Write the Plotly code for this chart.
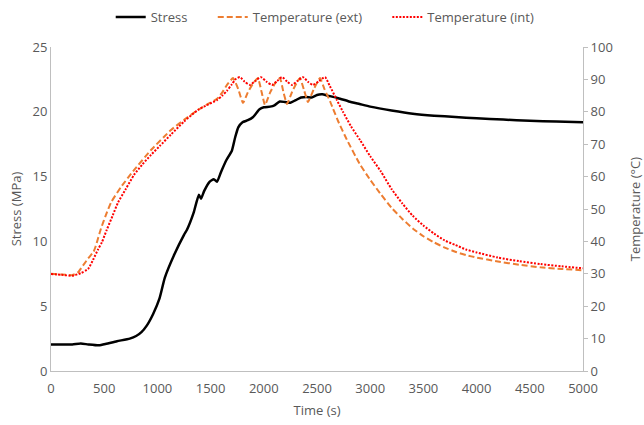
import plotly.graph_objects as go

# ---- data ----
stress_t = [0, 100, 200, 280, 350, 450, 520, 620, 740, 800, 850, 900, 960, 1020, 1070,
            1160, 1250, 1278, 1340, 1390, 1410, 1440, 1490, 1530, 1560, 1600, 1650, 1700,
            1730, 1760, 1800, 1850, 1900, 1960, 2000, 2060, 2100, 2150, 2200, 2250, 2300,
            2350, 2400, 2450, 2500, 2550, 2600, 2700, 2800, 2900, 3000, 3200, 3400, 3600,
            3800, 4000, 4250, 4500, 4750, 5000]
stress = [2.05, 2.05, 2.05, 2.12, 2.05, 1.98, 2.1, 2.3, 2.5, 2.7, 3.0, 3.5, 4.4, 5.6, 7.2,
          9.0, 10.5, 10.9, 12.2, 13.6, 13.3, 13.9, 14.6, 14.8, 14.6, 15.4, 16.3, 17.0,
          18.0, 18.8, 19.2, 19.35, 19.6, 20.2, 20.35, 20.4, 20.5, 20.8, 20.75, 20.7, 20.9,
          21.1, 21.15, 21.1, 21.3, 21.35, 21.25, 21.05, 20.8, 20.6, 20.4, 20.1, 19.85, 19.7,
          19.6, 19.5, 19.4, 19.3, 19.25, 19.2]

ext_t = [0, 100, 200, 250, 300, 350, 400, 420, 470, 520, 564, 658, 780, 940, 1128, 1250,
         1382, 1480, 1560, 1610, 1654, 1711, 1760, 1804, 1850, 1900, 1945, 1980, 2011,
         2060, 2110, 2152, 2185, 2218, 2270, 2310, 2340, 2380, 2415, 2470, 2528, 2570,
         2622, 2650, 2700, 2782, 2900, 3000, 3092, 3200, 3300, 3400, 3500, 3600, 3700,
         3800, 3900, 4000, 4200, 4400, 4600, 4800, 5000]
temp_ext = [30.0, 29.8, 29.6, 30.3, 32.5, 34.8, 36.8, 38.5, 44.0, 48.5, 52.0, 56.8, 62.0,
            68.2, 74.4, 77.5, 80.6, 82.5, 84.0, 86.0, 88.3, 90.4, 87.0, 82.7, 86.0, 88.8,
            90.4, 86.0, 82.1, 86.0, 89.0, 90.4, 86.0, 82.4, 86.5, 89.0, 90.4, 86.5, 83.0,
            87.0, 90.4, 87.0, 83.3, 81.0, 77.0, 71.3, 64.0, 59.0, 54.9, 50.4, 47.0, 44.0,
            41.6, 39.7, 38.1, 36.8, 35.8, 35.0, 33.8, 32.8, 32.0, 31.5, 31.1]

int_t = [0, 100, 200, 280, 348, 395, 442, 479, 523, 580, 630, 700, 780, 860, 940, 1024,
         1128, 1250, 1382, 1480, 1560, 1610, 1654, 1700, 1740, 1776, 1820, 1870, 1920,
         1973, 2025, 2077, 2125, 2171, 2220, 2265, 2315, 2368, 2415, 2462, 2520, 2575,
         2620, 2687, 2744, 2820, 2904, 3000, 3100, 3200, 3300, 3400, 3500, 3600, 3700,
         3800, 3900, 4000, 4200, 4400, 4600, 4800, 5000]
temp_int = [29.9, 29.7, 29.4, 30.2, 31.5, 34.3, 37.5, 39.8, 43.5, 48.0, 52.0, 56.0, 60.5,
            63.8, 66.7, 69.5, 73.0, 77.0, 80.6, 82.3, 83.6, 85.0, 86.5, 88.5, 90.2, 90.7,
            89.3, 88.3, 89.5, 90.7, 89.3, 88.3, 89.5, 90.7, 89.3, 88.3, 89.5, 90.7, 89.3,
            88.3, 89.5, 90.7, 88.0, 83.6, 80.0, 75.5, 71.3, 66.3, 61.6, 56.2, 51.8, 47.9,
            44.9, 42.4, 40.3, 38.9, 37.5, 36.6, 35.0, 33.9, 33.0, 32.3, 31.7]

x_ticks = [0, 500, 1000, 1500, 2000, 2500, 3000, 3500, 4000, 4500, 5000]

TXT = "#595959"
AX = "#BFBFBF"
FONT = "Open Sans"
PAD = "\u00a0" * 6  # spacing between legend entries

fig = go.Figure()
fig.add_trace(go.Scatter(x=stress_t, y=stress, mode="lines", name="Stress" + PAD,
                         line=dict(color="black", width=2.5, shape="spline", smoothing=0.5),
                         yaxis="y"))
fig.add_trace(go.Scatter(x=ext_t, y=temp_ext, mode="lines", name="Temperature (ext)" + PAD,
                         line=dict(color="#ED7D31", width=2, dash="6px,3px",
                                   shape="spline", smoothing=0.4), yaxis="y2"))
fig.add_trace(go.Scatter(x=int_t, y=temp_int, mode="lines", name="Temperature (int)",
                         line=dict(color="#FF0000", width=2, dash="2px,1.5px",
                                   shape="spline", smoothing=0.6), yaxis="y2"))

fig.update_layout(
    width=644, height=425,
    margin=dict(l=51, r=61, t=47, b=54, autoexpand=False),
    paper_bgcolor="white", plot_bgcolor="white",
    font=dict(family=FONT, size=13, color=TXT),
    showlegend=True,
    legend=dict(orientation="h", xref="container", yref="container",
                x=0.505, xanchor="center", y=1 - 17 / 425, yanchor="middle",
                font=dict(size=13, color=TXT), tracegroupgap=0),
    xaxis=dict(range=[0, 5000], tickvals=x_ticks, showgrid=False, zeroline=False,
               showline=True, linecolor=AX, linewidth=1, ticks="", ticklabelstandoff=5,
               title=dict(text="Time (s)", standoff=10, font=dict(size=13, color=TXT)),
               tickfont=dict(size=13, color=TXT)),
    yaxis=dict(range=[0, 25], dtick=5, showgrid=False, zeroline=False,
               showline=True, linecolor=AX, linewidth=1, ticks="",
               title=dict(text="Stress (MPa)", standoff=7, font=dict(size=13, color=TXT)),
               tickfont=dict(size=13, color=TXT)),
    yaxis2=dict(range=[0, 100], dtick=10, overlaying="y", side="right",
                showgrid=False, zeroline=False, showline=True, linecolor=AX, linewidth=1,
                ticks="outside", ticklen=4, tickcolor=AX,
                title=dict(text="Temperature (°C)", standoff=18, font=dict(size=13, color=TXT)),
                tickfont=dict(size=13, color=TXT)),
)

fig.write_html("out.html")
